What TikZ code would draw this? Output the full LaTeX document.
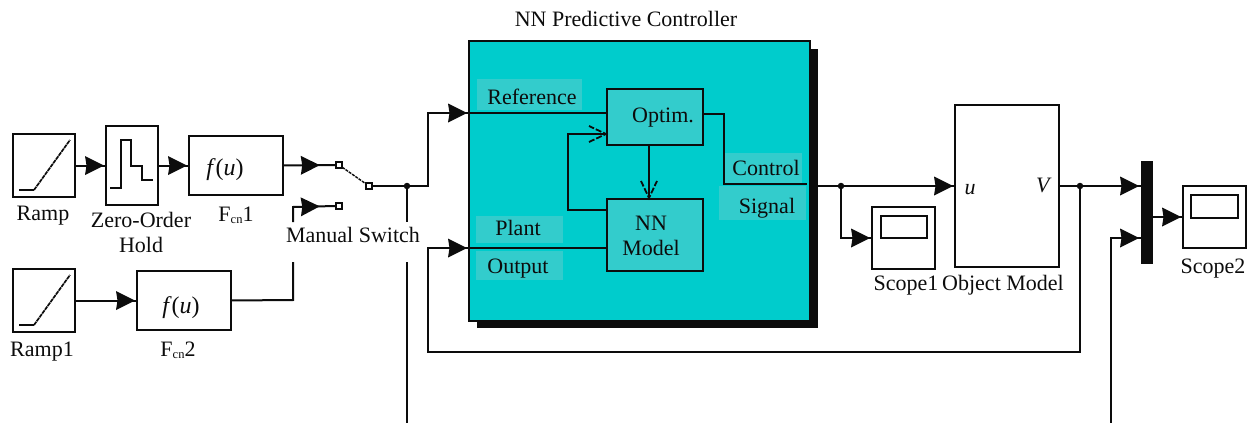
\documentclass[tikz,border=0pt]{standalone}
\usepackage{fontspec}
\setmainfont{Liberation Serif}
\usetikzlibrary{decorations.markings,calc}
\definecolor{teal0}{RGB}{0,204,204}
\definecolor{teal1}{RGB}{51,204,204}
\definecolor{ink}{RGB}{12,12,12}
\newcommand{\Fcn}[1]{F\raisebox{-2.5pt}{\fontsize{12.5}{12.5}\selectfont cn}#1}
\newcommand{\fu}{{\fontsize{24}{26}\selectfont\textit{f}(\textit{u})}}
\tikzset{
  every node/.style={inner sep=0pt,outer sep=0pt,font=\fontsize{22}{25}\selectfont,text=ink},
  lbl/.style={anchor=base},
  blk/.style={draw=ink,line width=2pt,fill=white,rectangle},
  inner/.style={draw=ink,line width=2.2pt,fill=teal1,rectangle,align=center},
  patch/.style={fill=teal1,rectangle},
  wire/.style={draw=ink,line width=2pt},
  icon/.style={draw=ink,line width=1.7pt},
  ramp/.style={draw=ink,line width=1.7pt,dash pattern=on 4pt off .7pt},
  port/.style={draw=ink,line width=1.7pt,fill=white,rectangle,minimum size=6.5pt},
  dot/.style={fill=ink,circle,minimum size=6.5pt},
  tri/.style={postaction={decorate},decoration={markings,
    mark=at position -#1 with {\fill[ink] (-19pt,-9.5pt)--(-17.5pt,0pt)--(-19pt,9.5pt)--(0pt,0pt)--cycle;}}},
  tri/.default=2pt,
  openarrow/.style={postaction={decorate},decoration={markings,
    mark=at position -1pt with {\draw[ink,line width=1.8pt,dash pattern=on 6pt off 2pt] (-17pt,-8pt)--(0pt,0pt)--(-17pt,8pt);}}},
}
\begin{document}
\begin{tikzpicture}[x=1pt,y=-1pt]
\useasboundingbox (0,0) rectangle (1253,423);

% NN controller
\fill[ink] (477,49) rectangle (818,328);
\node[draw=ink,line width=2pt,fill=teal0,rectangle,minimum width=341pt,minimum height=280pt] (ctrl) at (639.5,181) {};
\node[lbl] at (626,27) {NN Predictive Controller};
\node[patch,minimum width=105pt,minimum height=31pt] at (529.5,94.5) {};
\node[patch,minimum width=87pt,minimum height=27pt] at (519.5,229.5) {};
\node[patch,minimum width=87pt,minimum height=29pt] at (519.5,265.5) {};
\node[patch,minimum width=77pt,minimum height=30pt] at (763.5,168) {};
\node[patch,minimum width=87pt,minimum height=34pt] at (762.5,203) {};
\node[inner,minimum width=96pt,minimum height=56pt] (optim) at (655,117) {};
\node[inner,minimum width=96pt,minimum height=72pt] (nnm) at (655,235) {};
\node[lbl] at (532,104) {Reference};
\node[lbl] at (518,235) {Plant};
\node[lbl] at (518,273) {Output};
\node[lbl] at (766,175) {Control};
\node[lbl] at (767,213) {Signal};
\node[lbl] at (663,122) {Optim.};
\node[lbl] at (651,230) {NN};
\node[lbl] at (651,255) {Model};

% left blocks
\node[blk,minimum width=62pt,minimum height=63pt] (r0) at (44,165.5) {};
\node[blk,minimum width=52pt,minimum height=79pt] (zoh) at (132,165.5) {};
\node[blk,minimum width=94pt,minimum height=59pt] (f1) at (236,165.5) {};
\node[blk,minimum width=62pt,minimum height=63pt] (r1) at (44,300.5) {};
\node[blk,minimum width=94pt,minimum height=59pt] (f2) at (184,300.5) {};
\draw[icon] (19,190)--(34,190);
\draw[ramp] (34,190)--(70,140);
\draw[icon] (19,325)--(34,325);
\draw[ramp] (34,325)--(70,275);
\draw[icon] (110,188)--(121,188)--(121,140)--(131,140)--(131,166)--(142,166)--(142,180)--(153,180);
\node[lbl] at (225,175) {\fu};
\node[lbl] at (181,313) {\fu};
\node[lbl] at (43,220) {Ramp};
\node[lbl] at (141,227) {Zero-Order};
\node[lbl] at (141,252) {Hold};
\node[lbl] at (236,221) {\Fcn{1}};
\node[lbl] at (42,356) {Ramp1};
\node[lbl] at (178,356) {\Fcn{2}};
\node[lbl] at (353,242) {Manual Switch};

% switch
\node[port] (pa) at (339,165) {};
\node[port] (pb) at (339,206) {};
\node[port] (pc) at (369,186) {};
\draw[draw=ink,line width=1.4pt,dash pattern=on 3pt off 1pt] (pa)--(pc);
\coordinate (j1) at (407,186);
\coordinate (k1) at (293,300);
\coordinate (k2) at (293,262);
\coordinate (k3) at (293,222);
\coordinate (k4) at (293,207);
\coordinate (d1) at (407,222);
\coordinate (d2) at (407,262);
\coordinate (d3) at (407,423);

% right blocks
\node[blk,minimum width=104pt,minimum height=162pt] (obj) at (1007,186) {};
\node[blk,minimum width=63pt,minimum height=62pt] (s1) at (903.5,238) {};
\node[blk,minimum width=46pt,minimum height=22pt] at (904,227) {};
\node[blk,minimum width=63pt,minimum height=62pt] (s2) at (1214.5,217) {};
\node[blk,minimum width=47pt,minimum height=23pt] at (1214.5,206.5) {};
\node[fill=ink,rectangle,minimum width=12pt,minimum height=103pt] (mux) at (1147,212.5) {};
\node[lbl] at (970,194) {\textit{u}};
\node[lbl] at (1044,192) {\textit{V}};
\node[lbl] at (906,290) {Scope1};
\node[lbl] at (1003,290) {Object Model};
\node[lbl] at (1213,273) {Scope2};

% connectors
\draw[wire,tri] (r0.east) -- (zoh.west);
\draw[wire,tri] (zoh.east) -- (f1.west);
\draw[wire,tri=16pt] (f1.east) -- (pa.west);
\draw[wire,tri] (r1.east) -- (f2.west);
\draw[wire] (f2.east) -- (k1) -- (k2);
\draw[wire,tri=16pt] (k3) -- (k4) -- (pb.west);
\draw[wire] (pc.east) -- (j1);
\draw[wire,tri=2pt] (j1) -- (428,186) -- (428,113) -- (ctrl.west |- 0,113);
\draw[wire] (j1) -- (d1);
\draw[wire] (d2) -- (d3);
\node[dot] at (j1) {};
\draw[wire] (ctrl.west |- 0,113) -- (optim.west |- 0,113);
\draw[wire] (ctrl.west |- 0,248) -- (nnm.west |- 0,248);
\draw[wire,openarrow] (nnm.west |- 0,210) -- (568,210) -- (568,134) -- (optim.west |- 0,134);
\draw[wire,openarrow] (649,145) -- (649,199);
\draw[wire] (optim.east |- 0,114) -- (724,114) -- (724,184) -- (807,184);

\coordinate (j2) at (841,186);
\coordinate (j3) at (1080,186);
\draw[wire] (818,186) -- (j2);
\draw[wire,tri] (j2) -- (obj.west);
\draw[wire,tri] (j2) -- (841,238) -- (s1.west);
\draw[wire,tri] (obj.east) -- (j3) -- (mux.west |- j3);
\draw[wire,tri] (1111,423) -- (1111,238) -- (mux.west |- 0,238);
\draw[wire,tri] (mux.east |- s2.west) -- (s2.west);
\draw[wire,tri=2pt] (j3) -- (1080,352) -- (428,352) -- (428,248) -- (ctrl.west |- 0,248);
\node[dot] at (j2) {};
\node[dot] at (j3) {};
\end{tikzpicture}
\end{document}
